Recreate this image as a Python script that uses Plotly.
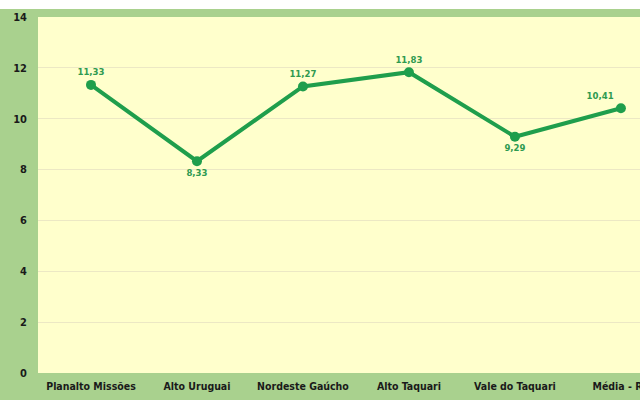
import plotly.graph_objects as go

categories = ["Planalto Missões", "Alto Uruguai", "Nordeste Gaúcho", "Alto Taquari", "Vale do Taquari", "Média - RS"]
values = [11.33, 8.33, 11.27, 11.83, 9.29, 10.41]
labels = ["11,33", "8,33", "11,27", "11,83", "9,29", "10,41"]
label_pos = ["top center", "bottom center", "top center", "top center", "bottom center", "top left"]
y_ticks = [0, 2, 4, 6, 8, 10, 12, 14]

line_green = "#1f9e4c"
font_fam = "DejaVu Sans Condensed, sans-serif"
fig = go.Figure()
fig.add_trace(go.Scatter(
    x=list(range(len(categories))), y=values,
    mode="lines+markers+text",
    line=dict(color=line_green, width=4),
    marker=dict(color=line_green, size=10),
    text=labels, textposition=label_pos,
    textfont=dict(family=font_fam, size=9.5, color="#2e9a50", weight="bold"),
    cliponaxis=False, showlegend=False,
))

fig.update_layout(
    width=640, height=400,
    margin=dict(l=38, r=0, t=17, b=27, pad=0, autoexpand=False),
    paper_bgcolor="#a9d18e",
    plot_bgcolor="#ffffcc",
    xaxis=dict(
        tickmode="array", tickvals=list(range(len(categories))), ticktext=categories,
        range=[-0.5, 5.18], showgrid=False, zeroline=False, showline=False,
        tickfont=dict(family=font_fam, size=10.5, color="#1a1a1a", weight="bold"),
        ticks="", ticklabelstandoff=5, automargin=False, ticklabeloverflow="allow",
    ),
    yaxis=dict(
        range=[0, 14], tickvals=y_ticks, showgrid=True, gridcolor="#ece8c4", gridwidth=1,
        zeroline=False, showline=False, ticks="", automargin=False,
        tickfont=dict(family=font_fam, size=11, color="#1a1a1a", weight="bold"),
        ticklabelstandoff=10,
    ),
    shapes=[dict(type="rect", xref="paper", yref="paper", x0=-0.1, x1=1.1,
                 y0=1 + (17 - 9) / 356, y1=1.2, fillcolor="white", line=dict(width=0), layer="above")],
)

fig.write_html("out.html", config={"displayModeBar": False},
               post_script="document.body.style.margin='0';")
